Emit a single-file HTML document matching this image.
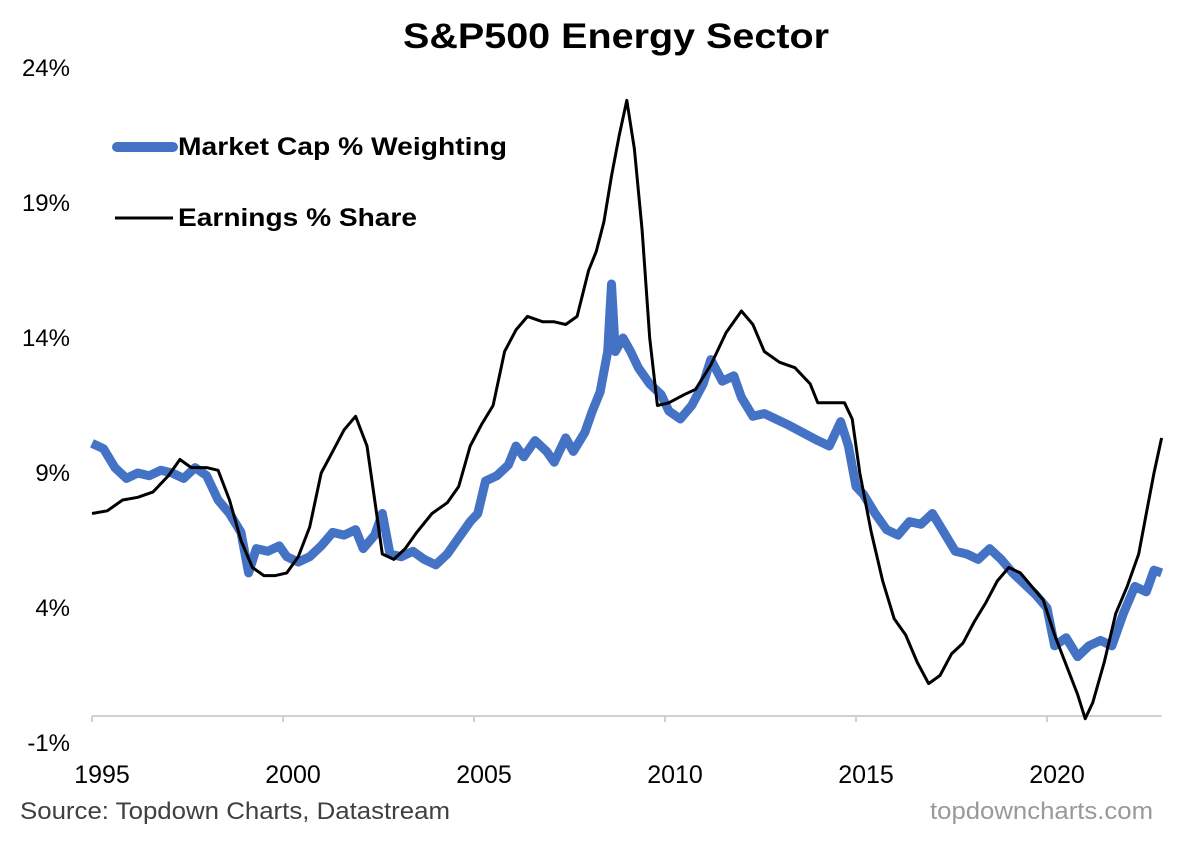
<!DOCTYPE html>
<html><head><meta charset="utf-8"><style>
body{margin:0;background:#fff;}
svg text{font-family:"Liberation Sans",Arial,sans-serif;}
</style></head><body>
<svg width="1200" height="837" viewBox="0 0 1200 837" xmlns="http://www.w3.org/2000/svg">
<text x="403" y="48" font-size="35" font-weight="bold" textLength="426" lengthAdjust="spacingAndGlyphs">S&amp;P500 Energy Sector</text>
<g id="yaxis"></g>
<g id="xaxis"></g>
<g id="series"></g>
<g>
<line x1="117" y1="147" x2="173" y2="147" stroke="#4472C4" stroke-width="10" stroke-linecap="round"/>
<text x="178" y="155" font-size="25" font-weight="bold" textLength="329" lengthAdjust="spacingAndGlyphs">Market Cap % Weighting</text>
<line x1="115" y1="218" x2="173" y2="218" stroke="#000" stroke-width="3"/>
<text x="178" y="226" font-size="25" font-weight="bold" textLength="239" lengthAdjust="spacingAndGlyphs">Earnings % Share</text>
</g>
<text x="20" y="819" font-size="24" fill="#404040" textLength="430" lengthAdjust="spacingAndGlyphs">Source: Topdown Charts, Datastream</text>
<text x="930" y="819" font-size="24" fill="#999" textLength="223" lengthAdjust="spacingAndGlyphs">topdowncharts.com</text>
</svg>
<script>
const yTicks=[-1,4,9,14,19,24];
const xTicks=[1995,2000,2005,2010,2015,2020];
const capYears=[1995.0,1995.3,1995.6,1995.9,1996.2,1996.5,1996.8,1997.1,1997.4,1997.7,1998.0,1998.3,1998.6,1998.9,1999.1,1999.3,1999.6,1999.9,2000.1,2000.4,2000.7,2001.0,2001.3,2001.6,2001.9,2002.1,2002.4,2002.6,2002.8,2003.1,2003.4,2003.7,2004.0,2004.3,2004.6,2004.9,2005.1,2005.3,2005.6,2005.9,2006.1,2006.3,2006.6,2006.9,2007.1,2007.4,2007.6,2007.9,2008.1,2008.3,2008.5,2008.6,2008.7,2008.9,2009.1,2009.3,2009.6,2009.9,2010.1,2010.4,2010.7,2011.0,2011.2,2011.5,2011.8,2012.0,2012.3,2012.6,2012.9,2013.2,2013.6,2014.0,2014.3,2014.6,2014.8,2015.0,2015.2,2015.5,2015.8,2016.1,2016.4,2016.7,2017.0,2017.3,2017.6,2017.9,2018.2,2018.5,2018.8,2019.1,2019.4,2019.7,2020.0,2020.2,2020.5,2020.8,2021.1,2021.4,2021.7,2022.0,2022.3,2022.6,2022.8,2023.0];
const capValues=[10.1,9.9,9.2,8.8,9.0,8.9,9.1,9.0,8.8,9.2,8.9,8.0,7.5,6.8,5.3,6.2,6.1,6.3,5.9,5.7,5.9,6.3,6.8,6.7,6.9,6.2,6.7,7.5,6.0,5.9,6.1,5.8,5.6,6.0,6.6,7.2,7.5,8.7,8.9,9.3,10.0,9.6,10.2,9.8,9.4,10.3,9.8,10.5,11.3,12.0,13.5,16.0,13.5,14.0,13.5,12.9,12.3,11.9,11.3,11.0,11.5,12.3,13.2,12.4,12.6,11.8,11.1,11.2,11.0,10.8,10.5,10.2,10.0,10.9,10.0,8.5,8.2,7.5,6.9,6.7,7.2,7.1,7.5,6.8,6.1,6.0,5.8,6.2,5.8,5.3,4.9,4.5,4.0,2.6,2.9,2.2,2.6,2.8,2.6,3.8,4.8,4.6,5.4,5.3];
const earnYears=[1995.0,1995.4,1995.8,1996.2,1996.6,1997.0,1997.3,1997.6,1998.0,1998.3,1998.6,1998.9,1999.2,1999.5,1999.8,2000.1,2000.4,2000.7,2001.0,2001.3,2001.6,2001.9,2002.2,2002.4,2002.6,2002.9,2003.2,2003.5,2003.9,2004.3,2004.6,2004.9,2005.2,2005.5,2005.8,2006.1,2006.4,2006.8,2007.1,2007.4,2007.7,2008.0,2008.2,2008.4,2008.6,2008.8,2009.0,2009.2,2009.4,2009.6,2009.8,2010.1,2010.5,2010.8,2011.2,2011.6,2012.0,2012.3,2012.6,2013.0,2013.4,2013.8,2014.0,2014.3,2014.7,2014.9,2015.1,2015.4,2015.7,2016.0,2016.3,2016.6,2016.9,2017.2,2017.5,2017.8,2018.1,2018.4,2018.7,2019.0,2019.3,2019.6,2019.9,2020.2,2020.5,2020.8,2021.0,2021.2,2021.5,2021.8,2022.1,2022.4,2022.6,2022.8,2023.0];
const earnValues=[7.5,7.6,8.0,8.1,8.3,8.9,9.5,9.2,9.2,9.1,8.0,6.5,5.5,5.2,5.2,5.3,5.9,7.0,9.0,9.8,10.6,11.1,10.0,8.0,6.0,5.8,6.2,6.8,7.5,7.9,8.5,10.0,10.8,11.5,13.5,14.3,14.8,14.6,14.6,14.5,14.8,16.5,17.2,18.3,20.0,21.5,22.8,21.0,18.0,14.0,11.5,11.6,11.9,12.1,13.0,14.2,15.0,14.5,13.5,13.1,12.9,12.3,11.6,11.6,11.6,11.0,9.0,6.8,5.0,3.6,3.0,2.0,1.2,1.5,2.3,2.7,3.5,4.2,5.0,5.5,5.3,4.8,4.3,3.0,1.9,0.8,-0.1,0.5,2.0,3.8,4.8,6.0,7.5,9.0,10.3];
const NS='http://www.w3.org/2000/svg';
function X(t){return 92+(t-1995)*38.2;}
function Y(v){return 716-v*27.0;}
function mk(tag,attrs,parent,txt){const e=document.createElementNS(NS,tag);for(const k in attrs)e.setAttribute(k,attrs[k]);if(txt!==undefined)e.textContent=txt;parent.appendChild(e);return e;}
const ya=document.getElementById('yaxis');
yTicks.forEach(v=>{const t=mk('text',{x:70,y:Y(v)+8,'text-anchor':'end','font-size':24},ya,v+'%');

});
const xa=document.getElementById('xaxis');
const ax=mk('line',{x1:X(1995),y1:Y(0),x2:X(2023),y2:Y(0),stroke:'#d0d0d0','stroke-width':2},xa);


xTicks.forEach(t=>{const tk=mk('line',{x1:X(t),y1:Y(0),x2:X(t),y2:Y(0)+6,stroke:'#d0d0d0','stroke-width':2},xa);


const l=mk('text',{x:X(t)+10,y:783,'text-anchor':'middle','font-size':25},xa,String(t));

});
const sg=document.getElementById('series');
function pts(ts,vs){return ts.map((t,i)=>X(t).toFixed(1)+','+Y(vs[i]).toFixed(1)).join(' ');}
const cap=mk('polyline',{points:pts(capYears,capValues),fill:'none',stroke:'#4472C4','stroke-width':9,'stroke-linejoin':'round'},sg);


const earn=mk('polyline',{points:pts(earnYears,earnValues),fill:'none',stroke:'#000','stroke-width':3,'stroke-linejoin':'round'},sg);


</script>
</body></html>
